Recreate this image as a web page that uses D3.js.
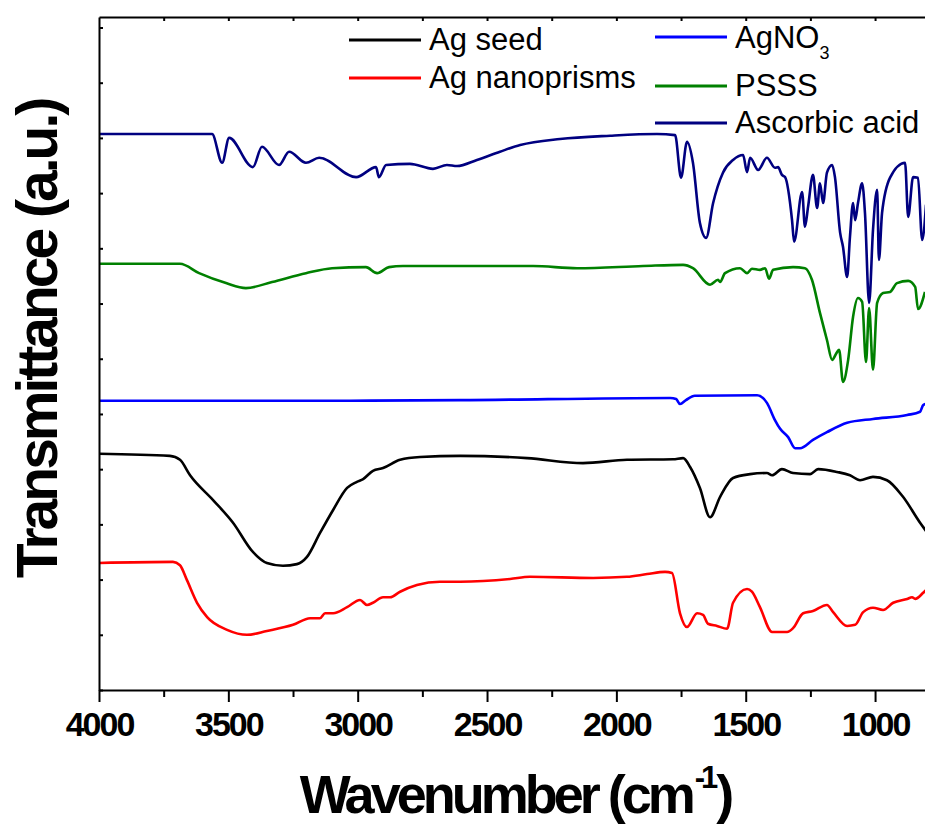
<!DOCTYPE html>
<html>
<head>
<meta charset="utf-8">
<script src="https://cdn.jsdelivr.net/npm/d3@7"></script>
<style>
  body { margin: 0; background: #fff; }
  svg { display: block; }
</style>
</head>
<body>
<svg id="chart" width="925" height="827"></svg>
<script>
// FTIR spectra, [wavenumber cm-1, transmittance a.u.] (curves are offset, a.u.)
const agSeed = [
  [4000, 42.8], [3726, 42.4], [3687, 41.7], [3648, 38.9], [3559, 34.4], [3482, 30.3],
  [3405, 25.0], [3351, 23.0], [3289, 22.5], [3235, 22.8], [3196, 24.1], [3146, 28.4],
  [3095, 32.6], [3041, 36.6], [3003, 37.7], [2979, 38.2], [2941, 39.7], [2902, 40.2],
  [2836, 41.7], [2759, 42.2], [2604, 42.4], [2345, 42.0], [2129, 41.1], [1959, 41.7],
  [1781, 41.8], [1742, 42.0], [1715, 40.4], [1677, 36.6], [1638, 31.3], [1599, 35.0],
  [1549, 38.4], [1483, 39.1], [1418, 39.3], [1398, 38.9], [1360, 40.0], [1317, 39.3],
  [1251, 39.1], [1220, 40.0], [1147, 39.5], [1097, 38.9], [1058, 38.0], [1008, 38.6],
  [954, 38.0], [892, 35.0], [826, 30.3], [803, 28.8]
];
const agNanoprisms = [
  [4000, 23.0], [3714, 23.2], [3687, 22.6], [3660, 19.9], [3621, 15.8], [3582, 13.2],
  [3505, 10.9], [3428, 10.0], [3351, 10.7], [3250, 11.8], [3184, 13.0], [3146, 13.0],
  [3126, 13.9], [3095, 13.9], [3041, 15.0], [2991, 16.3], [2964, 15.4], [2941, 15.8],
  [2902, 16.8], [2875, 16.8], [2836, 17.8], [2771, 19.0], [2682, 19.6], [2604, 19.6],
  [2411, 20.1], [2334, 20.5], [2090, 20.3], [1959, 20.5], [1881, 21.0], [1812, 21.4],
  [1785, 21.2], [1754, 13.9], [1727, 11.4], [1688, 13.9], [1665, 13.6], [1646, 12.0],
  [1611, 11.6], [1572, 11.1], [1549, 15.8], [1495, 18.3], [1476, 17.8], [1445, 15.0],
  [1398, 10.5], [1340, 10.5], [1317, 11.2], [1278, 13.9], [1240, 14.3], [1186, 15.4],
  [1162, 14.1], [1108, 11.6], [1077, 11.8], [1046, 14.1], [1008, 14.9], [969, 14.5],
  [930, 15.8], [876, 16.5], [857, 16.8], [845, 16.5], [814, 17.6], [803, 18.1]
];
const agNO3 = [
  [4000, 52.4], [3030, 52.4], [2604, 52.5], [1792, 52.9], [1769, 52.7], [1754, 51.8],
  [1731, 52.5], [1697, 53.3], [1456, 53.4], [1418, 52.0], [1387, 48.9], [1367, 47.3],
  [1336, 45.8], [1309, 43.8], [1290, 43.8], [1240, 45.3], [1186, 46.7], [1108, 48.4],
  [1008, 49.1], [876, 49.8], [826, 50.4], [814, 51.6], [802, 51.8], [801, 47.0], [800, 45.3]
];
const psss = [
  [4000, 77.2], [3687, 77.2], [3613, 75.5], [3509, 73.7], [3432, 72.8], [3331, 73.9],
  [3200, 75.5], [3099, 76.4], [2968, 76.6], [2925, 75.5], [2879, 76.6], [2825, 76.8],
  [2322, 76.8], [2152, 76.4], [1897, 76.8], [1742, 77.0], [1704, 76.4], [1638, 73.4],
  [1607, 74.3], [1599, 73.9], [1580, 75.5], [1522, 76.4], [1495, 75.5], [1476, 76.3],
  [1445, 76.1], [1425, 76.4], [1410, 74.5], [1394, 76.1], [1317, 76.6], [1271, 76.4],
  [1244, 74.3], [1213, 68.3], [1186, 63.4], [1166, 59.8], [1147, 61.2], [1139, 61.6],
  [1124, 55.8], [1104, 59.8], [1085, 67.6], [1066, 71.0], [1050, 70.3], [1035, 59.4],
  [1023, 69.2], [1008, 58.0], [992, 70.1], [969, 71.9], [942, 72.1], [915, 73.7],
  [872, 74.1], [845, 73.0], [834, 69.0], [807, 72.1]
];
const ascorbicAcid = [
  [4000, 100.7], [3563, 100.7], [3524, 95.5], [3497, 100.0], [3405, 94.7], [3370, 98.4],
  [3304, 95.1], [3265, 97.5], [3200, 95.5], [3149, 96.4], [3006, 92.9], [2929, 94.7],
  [2918, 92.9], [2890, 95.1], [2798, 95.3], [2709, 94.4], [2655, 95.1], [2616, 94.9],
  [2539, 96.0], [2450, 97.5], [2372, 98.7], [2218, 99.8], [2024, 100.4], [1843, 100.7],
  [1773, 100.5], [1750, 92.8], [1727, 99.3], [1704, 95.5], [1677, 84.6], [1653, 81.9],
  [1626, 88.2], [1588, 93.7], [1549, 96.0], [1510, 96.9], [1495, 93.8], [1483, 96.4],
  [1452, 94.2], [1418, 96.4], [1387, 94.6], [1375, 94.7], [1360, 93.3], [1348, 92.9],
  [1321, 85.1], [1313, 81.2], [1282, 90.2], [1271, 83.9], [1259, 87.5], [1240, 93.3],
  [1224, 87.3], [1213, 91.8], [1201, 88.2], [1186, 93.7], [1166, 95.1], [1155, 92.9],
  [1135, 82.8], [1124, 80.3], [1108, 74.8], [1097, 82.1], [1085, 88.2], [1077, 85.1],
  [1066, 88.2], [1050, 91.8], [1039, 86.4], [1023, 70.1], [1008, 83.3], [992, 90.6],
  [985, 77.9], [973, 86.4], [942, 92.8], [884, 95.5], [872, 85.7], [853, 92.9],
  [834, 92.8], [818, 81.5], [803, 87.9]
];

const xMajorTicks = [4000, 3500, 3000, 2500, 2000, 1500, 1000];
const xMinorTicks = [3750, 3250, 2750, 2250, 1750, 1250];
const xTopTicks = [3750, 3500, 3250, 3000, 2750, 2500, 2250, 2000, 1750, 1500, 1250, 1000];
const yTicks = [0, 10, 20, 30, 40, 50, 60, 70, 80, 90, 100, 110, 120];

const series = [
  { name: "Ag seed", data: agSeed, color: "#000000" },
  { name: "Ag nanoprisms", data: agNanoprisms, color: "#ff0000" },
  { name: "AgNO", sub: "3", data: agNO3, color: "#0000ff" },
  { name: "PSSS", data: psss, color: "#008000" },
  { name: "Ascorbic acid", data: ascorbicAcid, color: "#000080" }
];

const font = "'Liberation Sans', Arial, Helvetica, sans-serif";
const svg = d3.select('#chart');

const x = d3.scaleLinear().domain([4000, 800]).range([99, 926.8]);
const y = d3.scaleLinear().domain([0, 121.9]).range([690, 17]);

svg.append('clipPath').attr('id', 'plot')
  .append('rect')
  .attr('x', x(4000)).attr('y', y(121.9))
  .attr('width', x(800) - x(4000)).attr('height', y(0) - y(121.9));

// curves (pixel x grows as wavenumber falls, so monotoneX is fine)
const line = d3.line()
  .x(d => x(d[0]))
  .y(d => y(d[1]))
  .curve(d3.curveMonotoneX);

svg.append('g').attr('clip-path', 'url(#plot)')
  .selectAll('path')
  .data(series)
  .enter()
  .append('path')
  .attr('d', d => line(d.data))
  .attr('fill', 'none')
  .attr('stroke', d => d.color)
  .attr('stroke-width', 2.6)
  .attr('stroke-linejoin', 'round');

// axes
function styleAxis(g) {
  g.select('.domain').attr('stroke', '#000').attr('stroke-width', 2);
  g.selectAll('.tick line').attr('stroke', '#000').attr('stroke-width', 2);
}

const xAxis = svg.append('g')
  .attr('transform', `translate(0,${y(0)})`)
  .call(d3.axisBottom(x).tickValues(xMajorTicks).tickSize(12).tickSizeOuter(0).tickFormat(d3.format('d')))
  .call(styleAxis);
xAxis.selectAll('.tick text')
  .attr('y', 46).attr('dy', null)
  .attr('fill', '#000')
  .style('font-family', font)
  .style('font-weight', 'bold')
  .style('font-size', '34px')
  .style('letter-spacing', '-2px');

svg.append('g')
  .attr('transform', `translate(0,${y(0)})`)
  .call(d3.axisBottom(x).tickValues(xMinorTicks).tickSize(7).tickFormat(''))
  .call(styleAxis)
  .select('.domain').remove();

svg.append('g')
  .attr('transform', `translate(0,${y(121.9)})`)
  .call(d3.axisTop(x).tickValues(xTopTicks).tickSize(-4).tickSizeOuter(0).tickFormat(''))
  .call(styleAxis);

svg.append('g')
  .attr('transform', `translate(${x(4000)},0)`)
  .call(d3.axisLeft(y).tickValues(yTicks).tickSize(-4).tickSizeOuter(0).tickFormat(''))
  .call(styleAxis);

// axis titles
const xTitle = svg.append('text')
  .attr('x', 515).attr('y', 813)
  .attr('text-anchor', 'middle')
  .style('font-family', font)
  .style('font-weight', 'bold')
  .style('font-size', '54px')
  .style('letter-spacing', '-4px');
xTitle.append('tspan').text('Wavenumber (cm');
xTitle.append('tspan').attr('dx', 3).attr('dy', -25).style('font-size', '31px').text('-1');
xTitle.append('tspan').attr('dx', 2).attr('dy', 25).text(')');

svg.append('text')
  .attr('transform', 'translate(57,339) rotate(-90)')
  .attr('text-anchor', 'middle')
  .style('font-family', font)
  .style('font-weight', 'bold')
  .style('font-size', '57px')
  .style('letter-spacing', '-3px')
  .text('Transmittance (a.u.)');

// legend
const legendPos = [
  { x: 349, line: 40, base: 50 },
  { x: 349, line: 78, base: 88 },
  { x: 655, line: 37, base: 48 },
  { x: 655, line: 86, base: 96 },
  { x: 655, line: 123, base: 133 }
];

const legend = svg.append('g')
  .selectAll('g')
  .data(series)
  .enter()
  .append('g');

legend.append('line')
  .attr('x1', (d, i) => legendPos[i].x)
  .attr('x2', (d, i) => legendPos[i].x + 72)
  .attr('y1', (d, i) => legendPos[i].line)
  .attr('y2', (d, i) => legendPos[i].line)
  .attr('stroke', d => d.color)
  .attr('stroke-width', 3);

const legendText = legend.append('text')
  .attr('x', (d, i) => legendPos[i].x + 80)
  .attr('y', (d, i) => legendPos[i].base)
  .style('font-family', font)
  .style('font-size', '31px')
  .attr('fill', '#000');
legendText.append('tspan').text(d => d.name);
legendText.filter(d => d.sub)
  .append('tspan')
  .attr('dy', 11)
  .style('font-size', '18px')
  .text(d => d.sub);
</script>
</body>
</html>
